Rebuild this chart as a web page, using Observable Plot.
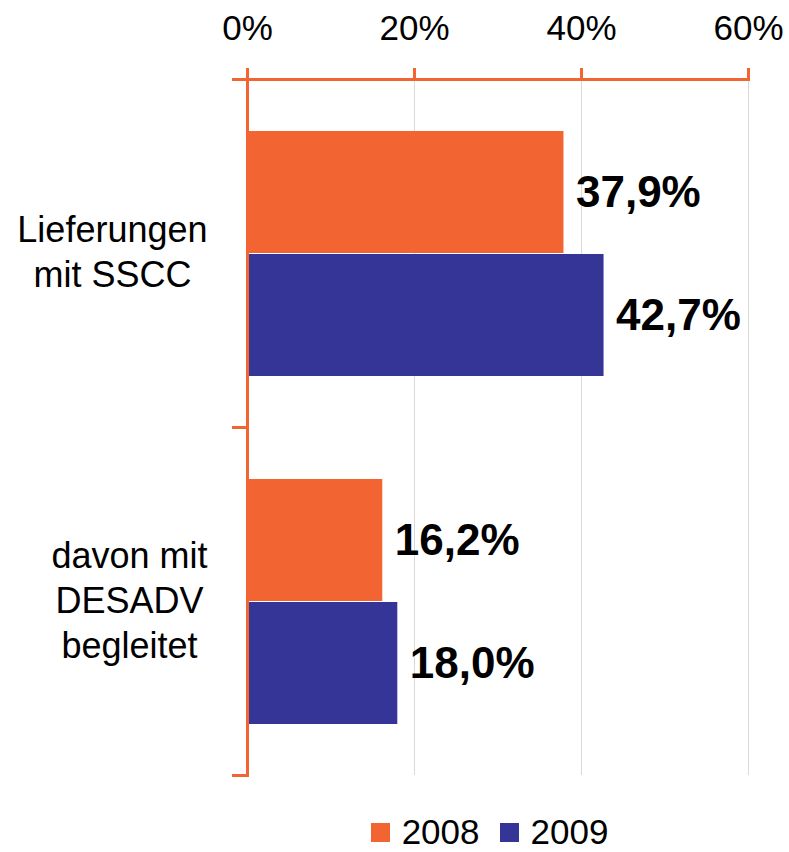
<!DOCTYPE html>
<html>
<head>
<meta charset="utf-8">
<script src="https://cdn.jsdelivr.net/npm/d3@7"></script>
<script src="https://cdn.jsdelivr.net/npm/@observablehq/plot@0.6"></script>
<style>
  body { margin: 0; background: #fff; font-family: "Liberation Sans", Arial, sans-serif; overflow: hidden; }
  #chart svg { display: block; }
  .legend { display: flex; align-items: center; justify-content: center; height: 40px; line-height: 40px;
            font-size: 35px; margin-top: 12px; padding-left: 190px; color: #000; }
  .legend .item { display: flex; align-items: center; }
  .legend .sw { width: 19px; height: 19px; margin-right: 12px; }
  .legend .item + .item { margin-left: 20px; }
</style>
</head>
<body>
<div id="chart"></div>
<script>
// ---- data ----
const categories = ["Lieferungen mit SSCC", "davon mit DESADV begleitet"];
const categoryLabels = ["Lieferungen\nmit SSCC", "davon mit\nDESADV\nbegleitet"];
const years = ["2008", "2009"];
const values2008 = [37.9, 16.2];
const values2009 = [42.7, 18.0];
const xTicks = [0, 20, 40, 60];
const xTickLabels = ["0%", "20%", "40%", "60%"];
const colors = ["#F26532", "#353597"];

// ---- table ----
const table = [];
categories.forEach((c, i) => {
  table.push({category: c, year: years[0], value: values2008[i]});
  table.push({category: c, year: years[1], value: values2009[i]});
});

// ---- layout ----
const W = 789, H = 800;
const mL = 247, mR = 41, mT = 78, mB = 25;
const plotW = W - mL - mR;
const axisColor = colors[0];
const font = '"Liberation Sans", Arial, sans-serif';
const labelRight = 207;
const labelSize = 36;

const ctx = document.createElement("canvas").getContext("2d");
ctx.font = `${labelSize}px ${font}`;
const labelDx = categoryLabels.map(l => {
  const w = d3.max(l.split("\n"), s => ctx.measureText(s).width);
  return labelRight - w / 2 - mL;
});

const fmt = v => v.toFixed(1).replace(".", ",") + "%";

const chart = Plot.plot({
  width: W, height: H,
  marginLeft: mL, marginRight: mR, marginTop: mT, marginBottom: mB,
  style: {fontFamily: font, background: "#fff", color: "#000"},
  x: {domain: [0, 60], axis: null, label: null},
  y: {domain: years, paddingInner: 0.012, paddingOuter: 0.41, axis: null},
  fy: {domain: categories, padding: 0, axis: null},
  color: {domain: years, range: colors},
  marks: [
    Plot.gridX(xTicks.slice(1), {stroke: "#d9d9d9", strokeOpacity: 1, strokeWidth: 1}),
    Plot.barX(table, {x: "value", y: "year", fy: "category", fill: "year"}),
    Plot.text(table, {x: "value", y: "year", fy: "category", text: d => fmt(d.value),
      dx: 12, textAnchor: "start", lineAnchor: "middle", fontSize: 44, fontWeight: "bold", fill: "#000"}),
    Plot.frame({anchor: "left", stroke: axisColor, strokeWidth: 3, strokeOpacity: 1}),
    Plot.frame({anchor: "top", facetAnchor: "top", insetLeft: -14, stroke: axisColor, strokeWidth: 3, strokeOpacity: 1}),
    Plot.frame({anchor: "bottom", insetLeft: -14, insetRight: plotW, stroke: axisColor, strokeWidth: 3, strokeOpacity: 1}),
    Plot.axisX(xTicks, {anchor: "top", label: null, tickSize: 12, tickPadding: 28,
      tickFormat: (d) => xTickLabels[xTicks.indexOf(d)],
      fontSize: 35, stroke: axisColor, strokeWidth: 3, fill: "#000"}),
    ...categories.map((c, i) => Plot.text([c], {fy: d => d, text: () => categoryLabels[i],
      frameAnchor: "left", dx: labelDx[i], dy: -3, textAnchor: "middle", lineAnchor: "middle",
      lineHeight: 1.25, fontSize: labelSize, fill: "#000"}))
  ]
});
document.getElementById("chart").appendChild(chart);

// ---- legend ----
const legend = d3.select("body").append("div").attr("class", "legend");
years.forEach((y, i) => {
  const it = legend.append("div").attr("class", "item");
  it.append("div").attr("class", "sw").style("background", colors[i]);
  it.append("span").text(y);
});
</script>
</body>
</html>
